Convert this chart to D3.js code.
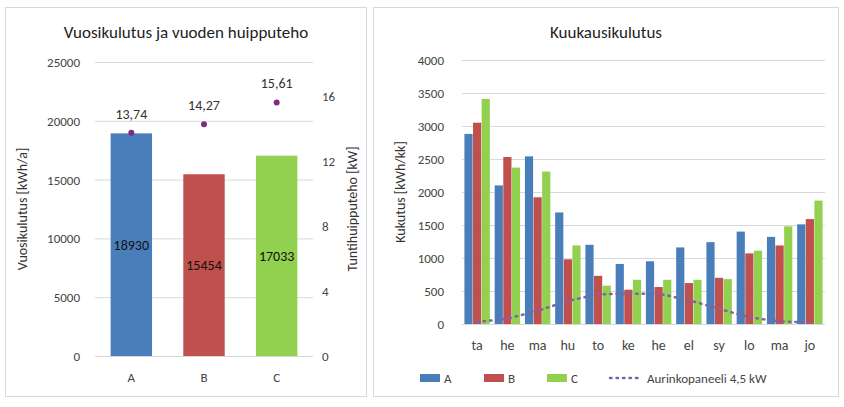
<!DOCTYPE html><html><head><meta charset="utf-8"><script src="https://cdn.jsdelivr.net/npm/d3@7"></script>
<style>body{margin:0;background:#fff;font-family:Calibri,Carlito,"Open Sans",sans-serif}</style></head><body><svg id="c" width="844" height="407"></svg>
<script>
const groups=["A","B","C"];
const annual=[18930,15454,17033];
const peak=[13.74,14.27,15.61];
const peakLabels=["13,74","14,27","15,61"];
const months=["ta","he","ma","hu","to","ke","he","el","sy","lo","ma","jo"];
const seriesA=[2880,2100,2540,1690,1200,910,950,1160,1240,1400,1320,1510];
const seriesB=[3050,2530,1920,980,730,520,560,620,700,1070,1190,1590];
const seriesC=[3410,2370,2310,1190,580,670,670,670,680,1110,1480,1870];
const solar=[30,80,200,350,450,460,460,360,230,100,40,20];
const colors=["#4a7ebb","#c0504d","#92d050"];
const svg=d3.select("#c");const F="Calibri,Carlito,'Open Sans',sans-serif";
svg.append("rect").attr("x",5.5).attr("y",7.5).attr("width",361).attr("height",389).attr("fill","#fff").attr("stroke","#d9d9d9");
svg.append("rect").attr("x",373.5).attr("y",7.5).attr("width",465).attr("height",389).attr("fill","#fff").attr("stroke","#d9d9d9");
// left
const x1=d3.scaleBand().domain(groups).range([95,313]).paddingInner(0.43).paddingOuter(0.215);
const y1=d3.scaleLinear().domain([0,25000]).range([356,62]);
const y2=d3.scaleLinear().domain([0,18.1]).range([356,62]);
svg.append("text").attr("x",186).attr("y",38).attr("text-anchor","middle").attr("font-size",17).attr("fill","#222").text("Vuosikulutus ja vuoden huipputeho");
const g1=svg.append("g");
y1.ticks(5).forEach(t=>{g1.append("line").attr("x1",95).attr("x2",313).attr("y1",y1(t)+.5).attr("y2",y1(t)+.5).attr("stroke","#d9d9d9");
g1.append("text").attr("x",80).attr("y",y1(t)+5).attr("text-anchor","end").attr("font-size",13).attr("fill","#444").text(t);});
[0,4,8,12,16].forEach(t=>g1.append("text").attr("x",322).attr("y",y2(t)+5).attr("font-size",13).attr("fill","#444").text(t));
groups.forEach((k,i)=>{g1.append("rect").attr("x",x1(k)).attr("width",x1.bandwidth()).attr("y",y1(annual[i])).attr("height",356-y1(annual[i])).attr("fill",colors[i]);
g1.append("text").attr("x",x1(k)+x1.bandwidth()/2).attr("y",(y1(annual[i])+356)/2+5).attr("text-anchor","middle").attr("font-size",14).attr("fill","#111").text(annual[i]);
g1.append("circle").attr("cx",x1(k)+x1.bandwidth()/2).attr("cy",y2(peak[i])).attr("r",3).attr("fill","#7f2b82");
g1.append("text").attr("x",x1(k)+x1.bandwidth()/2).attr("y",y2(peak[i])-14).attr("text-anchor","middle").attr("font-size",14).attr("fill","#333").text(peakLabels[i]);
g1.append("text").attr("x",x1(k)+x1.bandwidth()/2).attr("y",382).attr("text-anchor","middle").attr("font-size",13).attr("fill","#444").text(k);});
svg.append("text").attr("transform","translate(27,209) rotate(-90)").attr("text-anchor","middle").attr("font-size",14).attr("fill","#333").text("Vuosikulutus [kWh/a]");
svg.append("text").attr("transform","translate(357,209) rotate(-90)").attr("text-anchor","middle").attr("font-size",14).attr("fill","#333").text("Tuntihuipputeho [kW]");
// right
const x3=d3.scaleBand().domain(d3.range(12)).range([462,825]);
const xs=d3.scaleBand().domain([0,1,2]).range([0,x3.bandwidth()]).paddingInner(0.05).paddingOuter(0.28);
const y3=d3.scaleLinear().domain([0,4000]).range([324,60]);
svg.append("text").attr("x",606).attr("y",38).attr("text-anchor","middle").attr("font-size",17).attr("fill","#222").text("Kuukausikulutus");
const g3=svg.append("g");
y3.ticks(8).forEach(t=>{g3.append("line").attr("x1",462).attr("x2",825).attr("y1",y3(t)+.5).attr("y2",y3(t)+.5).attr("stroke","#d9d9d9");
g3.append("text").attr("x",444).attr("y",y3(t)+5).attr("text-anchor","end").attr("font-size",13).attr("fill","#444").text(t);});
[seriesA,seriesB,seriesC].forEach((s,j)=>s.forEach((v,i)=>g3.append("rect").attr("x",x3(i)+xs(j)).attr("width",xs.bandwidth()).attr("y",y3(v)).attr("height",324-y3(v)).attr("fill",colors[j])));
months.forEach((m,i)=>g3.append("text").attr("x",x3(i)+x3.bandwidth()/2).attr("y",350).attr("text-anchor","middle").attr("font-size",14).attr("fill","#444").text(m));
g3.append("path").attr("d",d3.line().x((d,i)=>x3(i)+x3.bandwidth()/2).y(d=>y3(d))(solar)).attr("fill","none").attr("stroke","#8064a2").attr("stroke-width",2.5).attr("stroke-dasharray","1.5 5").attr("stroke-linecap","round");
svg.append("text").attr("transform","translate(405,192) rotate(-90)").attr("text-anchor","middle").attr("font-size",14).attr("fill","#333").text("Kukutus [kWh/kk]");
// legend
const lg=svg.append("g");
[["A",420],["B",484],["C",547]].forEach(([t,x],i)=>{lg.append("rect").attr("x",x).attr("y",374).attr("width",20).attr("height",8).attr("fill",colors[i]);
lg.append("text").attr("x",x+24).attr("y",383).attr("font-size",13).attr("fill","#444").text(t);});
lg.append("line").attr("x1",610).attr("x2",642).attr("y1",378).attr("y2",378).attr("stroke","#8064a2").attr("stroke-width",2.5).attr("stroke-dasharray","1.5 5").attr("stroke-linecap","round");
lg.append("text").attr("x",647).attr("y",383).attr("font-size",13).attr("fill","#444").text("Aurinkopaneeli 4,5 kW");
</script></body></html>
